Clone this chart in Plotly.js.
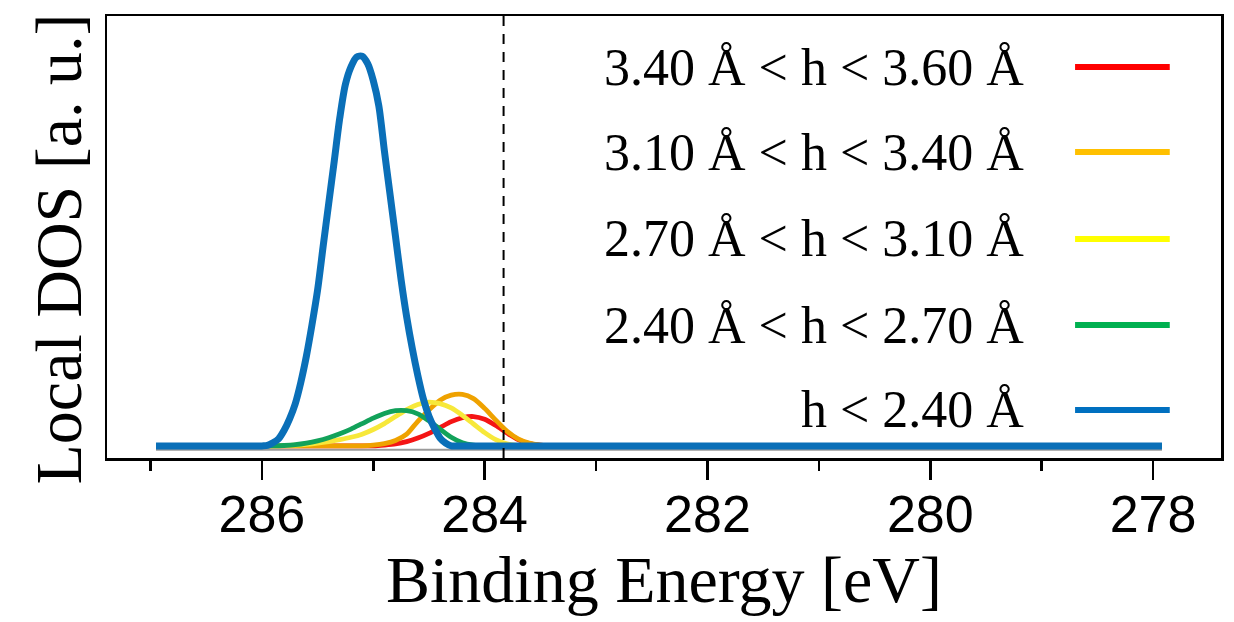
<!DOCTYPE html>
<html>
<head>
<meta charset="utf-8">
<script src="https://cdn.plot.ly/plotly-3.0.1.min.js"></script>
<style>
  html, body { margin: 0; padding: 0; background: #ffffff; }
  #chart { width: 1234px; height: 622px; }
</style>
</head>
<body>
<div id="chart"></div>
<script>
// ---- data ----
const energy = [286.95, 286.5, 286.3, 286.2, 286.1, 286.0, 285.9, 285.8, 285.7, 285.6,
                285.5, 285.4, 285.3, 285.2, 285.1, 285.0, 284.9, 284.8, 284.7, 284.6,
                284.5, 284.4, 284.3, 284.2, 284.1, 284.0, 283.9, 283.8, 283.7, 283.6,
                283.5, 283.4, 283.2, 283.0, 277.92];

const dos_340_360 = [0, 0, 0, 0, 0, 0, 0, 0, 0, 0,
                     0, 0, 0, 0, 0, 0, 0.002, 0.005, 0.011, 0.020,
                     0.032, 0.047, 0.062, 0.072, 0.075, 0.068, 0.052, 0.033, 0.016, 0.006,
                     0.002, 0, 0, 0, 0];

const dos_310_340 = [0, 0, 0, 0, 0, 0, 0, 0, 0, 0,
                     0, 0, 0, 0, 0, 0.002, 0.006, 0.014, 0.030, 0.063,
                     0.092, 0.117, 0.130, 0.132, 0.121, 0.096, 0.066, 0.038, 0.018, 0.007,
                     0.002, 0, 0, 0, 0];

const dos_270_310 = [0, 0, 0, 0, 0, 0, 0, 0.001, 0.002, 0.004,
                     0.007, 0.011, 0.016, 0.022, 0.030, 0.042, 0.057, 0.075, 0.093, 0.106,
                     0.112, 0.108, 0.097, 0.078, 0.056, 0.034, 0.016, 0.005, 0.001, 0,
                     0, 0, 0, 0, 0];

const dos_240_270 = [0, 0, 0, 0, 0, 0, 0, 0.001, 0.003, 0.007,
                     0.013, 0.021, 0.031, 0.043, 0.057, 0.071, 0.083, 0.090, 0.090, 0.082,
                     0.064, 0.043, 0.022, 0.008, 0.002, 0, 0, 0, 0, 0,
                     0, 0, 0, 0, 0];

// the tall peak is read on a finer energy grid
const energyFine = [286.95, 286.0, 285.95, 285.9, 285.85, 285.8, 285.75, 285.7, 285.65, 285.6,
                    285.55, 285.5, 285.45, 285.4, 285.35, 285.3, 285.25, 285.2, 285.15, 285.1,
                    285.05, 285.0, 284.95, 284.9, 284.85, 284.8, 284.75, 284.7, 284.65, 284.6,
                    284.55, 284.5, 284.45, 284.4, 284.35, 284.3, 284.25, 277.92];
const dos_below_240 = [0, 0, 0.001, 0.008, 0.018, 0.040, 0.070, 0.108, 0.163, 0.230,
                       0.310, 0.398, 0.510, 0.620, 0.729, 0.840, 0.925, 0.970, 0.995, 0.997,
                       0.978, 0.935, 0.870, 0.755, 0.645, 0.535, 0.425, 0.330, 0.250, 0.180,
                       0.120, 0.076, 0.045, 0.020, 0.007, 0, 0, 0];

const seriesLabels = ['3.40 Å < h < 3.60 Å', '3.10 Å < h < 3.40 Å', '2.70 Å < h < 3.10 Å',
                      '2.40 Å < h < 2.70 Å', 'h < 2.40 Å'];
const seriesEnergy = [energy, energy, energy, energy, energyFine];
const seriesValues = [dos_340_360, dos_310_340, dos_270_310, dos_240_270, dos_below_240];

const referenceEnergy = [286.95, 277.92];
const referenceLevel = [-0.01, -0.01];
const fermiEnergy = 283.83;

const xTickStep = 2;
const xMinorStep = 1;

// ---- styles ----
const curveColors  = ['#F41515', '#EFA200', '#F7E83A', '#12A25A', '#0A6FB8'];
const legendColors = ['#FF0000', '#FFC000', '#FFFF00', '#00B050', '#0070C0'];
const curveWidths  = [4.8, 4.8, 4.8, 4.8, 7];

const traces = [{
  x: referenceEnergy, y: referenceLevel, type: 'scatter', mode: 'lines',
  line: {color: '#9a9a9a', width: 2}, showlegend: false, hoverinfo: 'skip'
}];
seriesValues.forEach((vals, i) => {
  traces.push({
    x: seriesEnergy[i], y: vals, type: 'scatter', mode: 'lines', name: seriesLabels[i],
    line: {color: curveColors[i], width: curveWidths[i], shape: 'spline', smoothing: 0.8},
    showlegend: false
  });
});

const serif = 'Liberation Serif, Times New Roman, serif';
const sans = 'Liberation Sans, Arial, sans-serif';

// custom legend: text on the left, line sample on the right
const legendRowsY = [0.8846, 0.6923, 0.4955, 0.3009, 0.1086];
const annotations = seriesLabels.map((lab, i) => ({
  xref: 'paper', yref: 'paper', x: 0.825, y: legendRowsY[i],
  xanchor: 'right', yanchor: 'middle', showarrow: false,
  text: lab.replace(/</g, '&lt;'),
  font: {family: serif, size: 52, color: '#000000'}
}));
// y-axis title
annotations.push({
  xref: 'paper', yref: 'paper', x: -0.0435, y: 0.473,
  xanchor: 'center', yanchor: 'middle', showarrow: false, textangle: -90,
  text: 'Local DOS [a. u.]',
  font: {family: serif, size: 66, color: '#000000'}
});
const shapes = seriesLabels.map((lab, i) => ({
  type: 'line', xref: 'paper', yref: 'paper',
  x0: 0.869, x1: 0.954, y0: legendRowsY[i], y1: legendRowsY[i],
  line: {color: legendColors[i], width: 6}
}));
shapes.push({
  type: 'line', xref: 'x', yref: 'paper', x0: fermiEnergy, x1: fermiEnergy, y0: 0, y1: 1,
  line: {color: '#000000', width: 2, dash: '10px,8px'}
});

const layout = {
  width: 1234, height: 622,
  margin: {l: 107, r: 13, t: 16, b: 164},
  paper_bgcolor: '#ffffff', plot_bgcolor: '#ffffff',
  showlegend: false,
  xaxis: {
    range: [287.39, 277.39],
    tick0: 0, dtick: xTickStep,
    showgrid: false, zeroline: false,
    showline: true, mirror: true, linecolor: '#000000', linewidth: 2.5,
    ticks: 'outside', ticklen: 19, tickwidth: 2.5, tickcolor: '#000000',
    ticklabelstandoff: -10,
    minor: {dtick: xMinorStep, tick0: 0, ticks: 'outside', ticklen: 10, tickwidth: 2.5, tickcolor: '#000000', showgrid: false},
    tickfont: {family: sans, size: 52, color: '#000000'},
    title: {text: 'Binding Energy [eV]', font: {family: serif, size: 66, color: '#000000'}, standoff: 6}
  },
  yaxis: {
    range: [-0.031, 1.1],
    showgrid: false, zeroline: false,
    showline: true, mirror: true, linecolor: '#000000', linewidth: 2.5,
    ticks: '', showticklabels: false
  },
  annotations: annotations,
  shapes: shapes
};

Plotly.newPlot('chart', traces, layout, {displayModeBar: false, staticPlot: true});
</script>
</body>
</html>
